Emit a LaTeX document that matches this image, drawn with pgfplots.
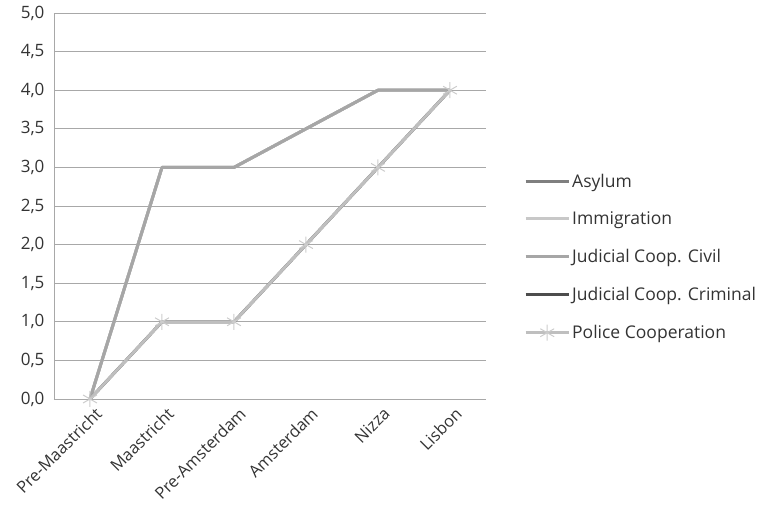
\documentclass[border=0pt]{standalone}
\usepackage{pgfplots}
\pgfplotsset{compat=1.18}
\usepackage{fontspec}
\setmainfont{Open Sans}
\definecolor{cAsy}{HTML}{7F7F7F}
\definecolor{cImm}{HTML}{C8C8C8}
\definecolor{cCiv}{HTML}{A6A6A6}
\definecolor{cCri}{HTML}{4D4D4D}
\definecolor{cPol}{HTML}{BFBFBF}
\definecolor{cTxt}{HTML}{333333}
\definecolor{cGrid}{HTML}{A8A8A8}
\begin{document}
\begin{tikzpicture}[x=1pt,y=1pt]
\path[use as bounding box] (0,0) rectangle (764,511);
\begin{axis}[
  at={(54pt,112pt)}, anchor=south west,
  scale only axis, width=432pt, height=386pt,
  xmin=-0.5, xmax=5.5, ymin=0, ymax=5,
  xtick={0,1,2,3,4,5},
  xticklabels={Pre-Maastricht,Maastricht,Pre-Amsterdam,Amsterdam,Nizza,Lisbon},
  minor xtick={-0.5,0.5,1.5,2.5,3.5,4.5,5.5},
  ytick={0,0.5,...,5},
  axis x line*=bottom, axis y line*=left,
  axis line style={cGrid, line width=0.9pt, -},
  major tick length=0pt,
  ytick style={draw=none},
  xtick style={draw=none},
  minor tick length=6pt,
  minor x tick style={cGrid, line width=0.9pt},
  extra y ticks={0,0.5,...,5},
  extra y tick labels={},
  extra y tick style={major tick length=6pt, tick style={cGrid, line width=0.9pt}, tick align=outside, grid=none},
  tick align=outside,
  ymajorgrids, major grid style={cGrid, line width=0.9pt},
  xticklabel style={rotate=45, anchor=north east, font=\fontsize{16.5}{18}\selectfont, text=cTxt, inner sep=1pt, yshift=-7pt, xshift=-1pt},
  yticklabel style={font=\fontsize{17}{19}\selectfont, text=cTxt, xshift=-6pt},
  /pgf/number format/.cd, fixed, fixed zerofill, precision=1, use comma, assume math mode=true,
  /pgfplots/.cd,
  legend style={draw=none, fill=none, at={(1.088,0.368)}, anchor=west, font=\fontsize{17.5}{19}\selectfont, text=cTxt, row sep=19.2pt, inner sep=0pt, nodes={inner sep=2pt}},
  legend cell align=left,
  legend image code/.code={\draw[mark repeat=2,mark phase=2,#1] plot coordinates {(0pt,0pt)(21.5pt,0pt)(43pt,0pt)};},
  clip=false,
]
\addplot[cAsy, line width=3pt, line join=round] coordinates {(0,0)(1,3)(2,3)(3,3.5)(4,4)(5,4)};
\addlegendentry{Asylum}
\addplot[cImm, line width=3pt, line join=round] coordinates {(0,0)(1,3)(2,3)(3,3.5)(4,4)(5,4)};
\addlegendentry{Immigration}
\addplot[cCiv, line width=3pt, line join=round] coordinates {(0,0)(1,3)(2,3)(3,3.5)(4,4)(5,4)};
\addlegendentry{Judicial Coop. Civil}
\addplot[cCri, line width=3pt, line join=round] coordinates {(0,0)(1,1)(2,1)(3,2)(4,3)(5,4)};
\addlegendentry{Judicial Coop. Criminal}
\addplot[cPol, line width=3pt, line join=round, mark=asterisk, mark size=8pt, mark options={line width=1pt, draw=cPol!80!white}] coordinates {(0,0)(1,1)(2,1)(3,2)(4,3)(5,4)};
\addlegendentry{Police Cooperation}
\end{axis}
\end{tikzpicture}
\end{document}
